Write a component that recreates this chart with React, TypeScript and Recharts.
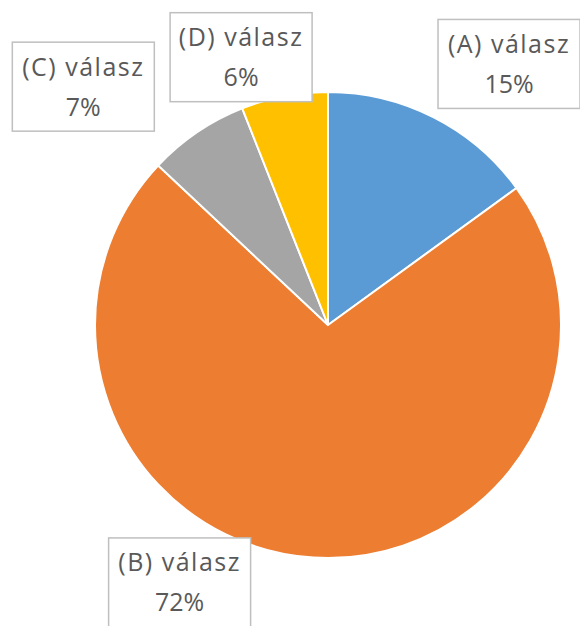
import { PieChart, Pie, Cell } from 'recharts';

const NAMES = ['(A) válasz', '(B) válasz', '(C) válasz', '(D) válasz'];
const VALUES = [15, 72, 7, 6];
const COLORS = ['#5B9BD5', '#ED7D31', '#A5A5A5', '#FFC000'];

// nudges of the label boxes from their default outside spot
const NUDGE = [
  [48, 0],
  [-130, -35],
  [-80, 4],
  [-32, 20],
];

const data = NAMES.map((name, i) => ({ name, value: VALUES[i] }));

const BOX_W = 142;
const BOX_H = 89;

function renderLabel(props: any) {
  const { cx, cy, midAngle, outerRadius, percent, index, name } = props;
  const RAD = Math.PI / 180;
  const r = outerRadius + 60;
  const x = cx + r * Math.cos(-midAngle * RAD) + NUDGE[index][0];
  const y = cy + r * Math.sin(-midAngle * RAD) + NUDGE[index][1];
  return (
    <g key={index}>
      <rect
        x={x - BOX_W / 2}
        y={y - BOX_H / 2}
        width={BOX_W}
        height={BOX_H}
        fill="#fff"
        stroke="#BFBFBF"
        strokeWidth={1.5}
      />
      <text
        x={x}
        y={y - 11}
        textAnchor="middle"
        fill="#595959"
        fontSize={25}
        letterSpacing={1.5}
        fontFamily="'Open Sans', sans-serif"
      >
        {name}
      </text>
      <text
        x={x}
        y={y + 29}
        textAnchor="middle"
        fill="#595959"
        fontSize={25}
        fontFamily="'Open Sans', sans-serif"
      >
        {`${Math.round(percent * 100)}%`}
      </text>
    </g>
  );
}

export default function App() {
  return (
    <div style={{ position: 'absolute', left: 0, top: 0, background: '#fff' }}>
      <PieChart width={580} height={626} margin={{ top: 0, right: 0, bottom: 0, left: 0 }}>
        <Pie
          data={data}
          dataKey="value"
          nameKey="name"
          cx={328}
          cy={325}
          outerRadius={233}
          startAngle={90}
          endAngle={-270}
          stroke="#fff"
          strokeWidth={2}
          label={renderLabel}
          labelLine={false}
          isAnimationActive={false}
        >
          {data.map((_, i) => (
            <Cell key={i} fill={COLORS[i]} />
          ))}
        </Pie>
      </PieChart>
    </div>
  );
}
